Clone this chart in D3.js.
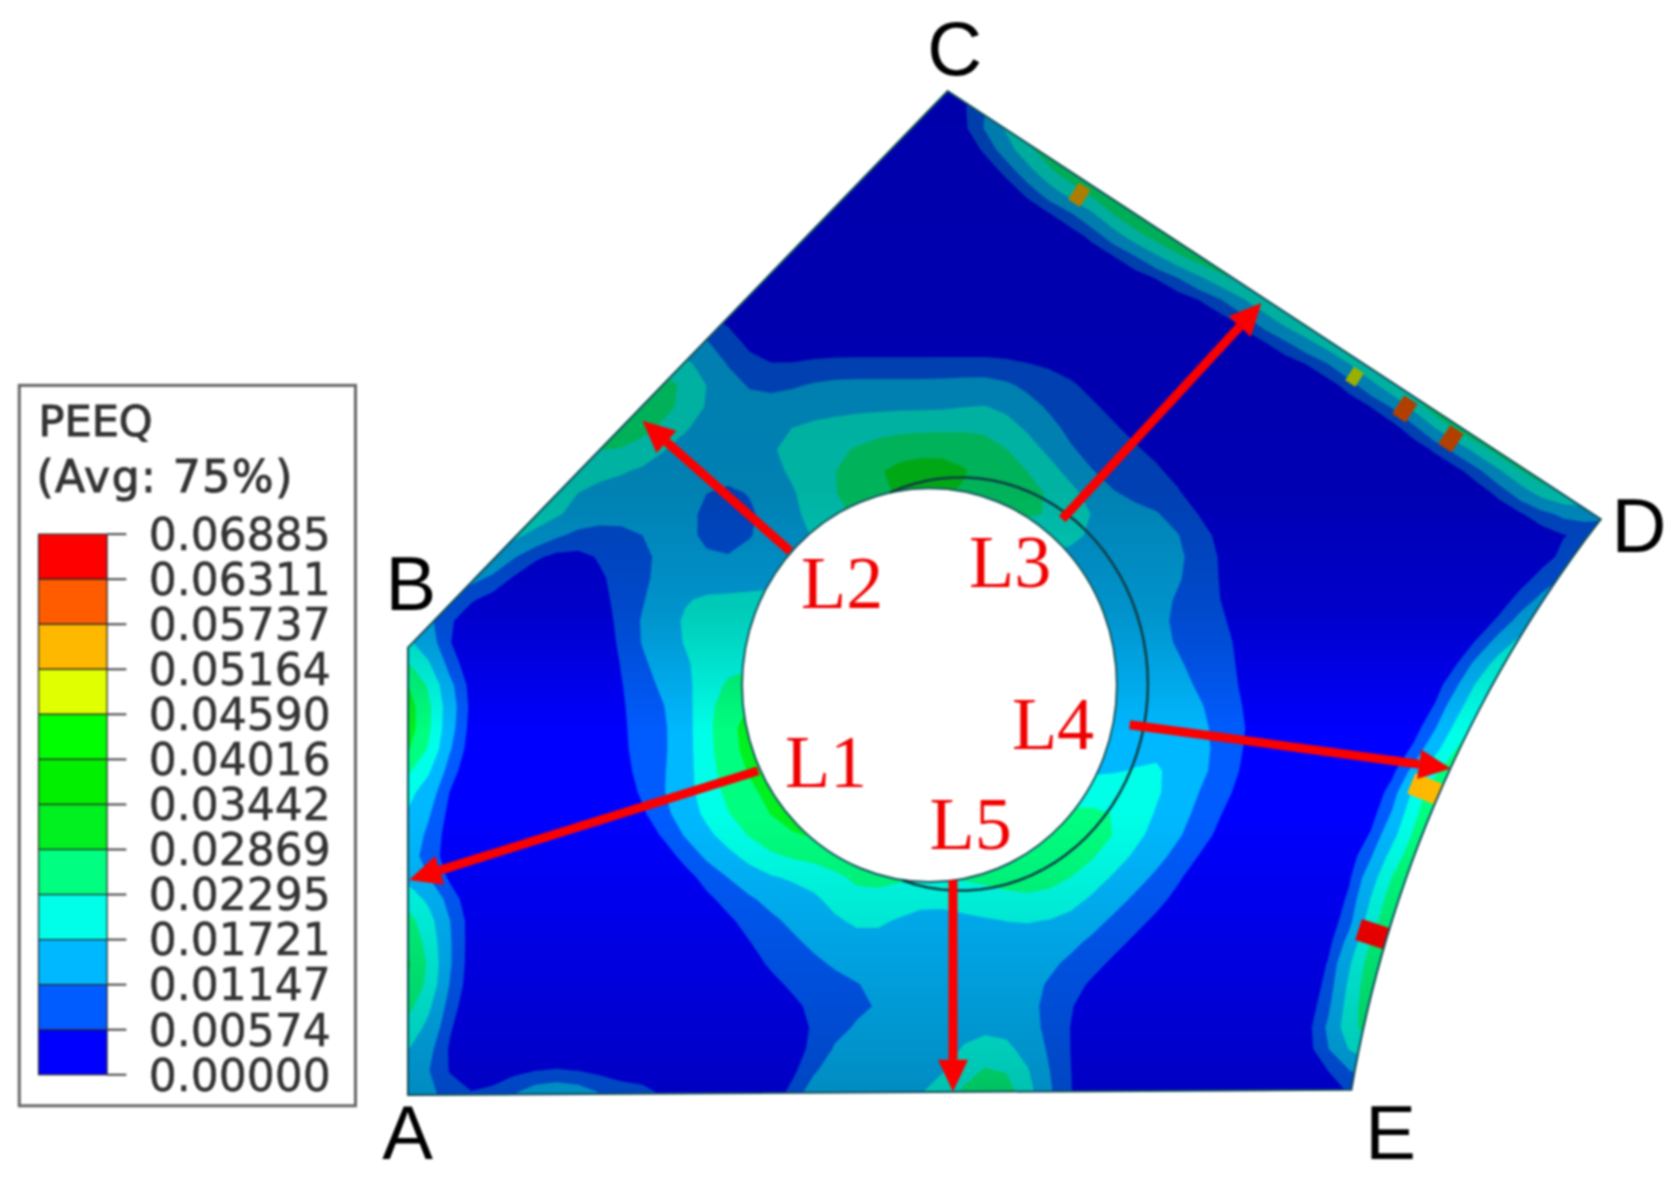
<!DOCTYPE html>
<html>
<head>
<meta charset="utf-8">
<style>
  html, body { margin: 0; padding: 0; background: #fff; }
  svg { display: block; filter: blur(0.8px); }
</style>
<script src="https://cdn.jsdelivr.net/npm/d3@7"></script>
</head>
<body>
<div id="chart"></div>
<script>
// Legend values, top to bottom
var legendLabels = ['0.06885', '0.06311', '0.05737', '0.05164', '0.04590', '0.04016', '0.03442',
  '0.02869', '0.02295', '0.01721', '0.01147', '0.00574', '0.00000'];
// Contour colours, lowest band first
var bandColors = ['#0000ff', '#005cff', '#00b8ff', '#00ffe8', '#00ff80', '#00f020', '#00f000',
  '#00ff00', '#e0ff00', '#ffb800', '#ff5c00', '#ff0000'];

// Plate corners A B C D E, read in picture units
var plateX = [381, 381, 885, 1495, 1263];
var plateY = [1023, 605, 85, 485, 1018];
var cornerNames = ['A', 'B', 'C', 'D', 'E'];
var cornerLabelX = [357, 360, 866, 1505, 1275];
var cornerLabelY = [1083, 570, 70, 516, 1083];

// Paths L1..L5, start at the hole and end at the plate edge
var pathNames = ['L1', 'L2', 'L3', 'L4', 'L5'];
var pathLabelX = [733, 748, 905, 945, 868];
var pathLabelY = [735, 568, 548, 700, 793];
var pathFromX = [708, 738, 992, 1055, 890];
var pathFromY = [720, 515, 485, 677, 822];
var pathToX = [382, 600, 1178, 1355, 890];
var pathToY = [822, 393, 283, 718, 1020];

// Small hot elements on the loaded edges
var hotX = [1008, 1265, 1312, 1355, 1331, 1283];
var hotY = [182, 352, 382, 410, 737, 873];
var hotLevel = [9, 8, 10, 10, 9, 11];
var hotAngle = [33, 33, 33, 33, -68, -72];
var hotLength = [14, 12, 16, 16, 22, 22];
var hotDepth = [20, 16, 22, 22, 30, 32];

// PEEQ band index read on a 20 unit grid: rows start at y = 80, columns at x = 380.
// A short row repeats its last digit up to the right side.
var fieldRows = [
  '0',
  '0000000000 0000000000 0000001333',
  '0000000000 0000000000 0000000245',
  '0000000000 0000000000 0000000024 5',
  '0000000000 0000000000 0000000002 45',
  '0000000000 0000000000 0000000000 2446',
  '0000000000 0000000000 0000000000 00245',
  '0000000000 0000000000 0000000000 0002456',
  '0000000000 0000000000 0000000000 00000245',
  '0000000000 0000000000 0000000000 0000000245',
  '0000000000 0000000000 0000000000 0000000002 4',
  '1111111111 1111111000 0000000000 0000000000 245',
  '2222222222 2222210000 0000000000 0000000000 00245',
  '3333333333 3333211111 1111111111 1100000000 000025',
  '5555555555 5554321112 2222222221 1110000000 00000246',
  '5555555555 5553222222 2222222322 1111000000 000000026',
  '5555555555 5432222233 3333333432 2111100000 0000000025 6',
  '3333333333 4322222333 3445555443 2111110000 0000000000 35',
  '3333333333 2222222233 4455555444 3211111000 0000000000 0245',
  '3333333322 2222111223 3455555444 4321111000 0000000000 00245',
  '5555555422 2222111223 4444444444 4432221100 0000000000 0000110',
  '3333332111 1122111223 3333333333 3322222110 0000000000 0000000',
  '3333310001 1122112222 2222222222 2222222110 0000000000 000012',
  '2222200001 1122222222 2222222222 2222222110 0000000000 00012',
  '2220000001 1123333333 3333333322 2222221110 0000000000 0012',
  '2200000000 1223333333 3333333322 2222221111 0000000000 0023',
  '3200000000 1223333333 3333333322 2222221111 0000000000 023',
  '4300000000 1122333333 3333333322 2222222111 0000000000 235',
  '6420000000 1122344444 4444333222 2222222111 0000000001 35',
  '6420000000 1112355555 5555433222 2222222211 0000000002 4',
  '6410000000 1112355555 5555433222 2222222211 1000000013 5',
  '6510000000 1112355555 5555433222 2222232211 0000000024',
  '4300000000 1112345555 5555433222 2222233211 0000000135',
  '3200000000 0122344555 5555443333 3333432111 0000000466',
  '3200000000 0112344555 5555544444 4444322110 000000135',
  '3100000000 0012234455 5555554444 4454322110 000000245',
  '2100000000 0001223444 4444444444 4443221100 00000135',
  '2100000000 0000112222 3444444444 4432211000 00000245',
  '4310000000 0000111222 3433223344 4322111000 0000035',
  '5320000000 0000011122 2332222222 2221110000 0000035',
  '5310000000 0000001112 2222222222 2211100000 0000146',
  '6410000000 0000001111 2222222222 2111000000 000035',
  '6410000000 0000000111 1122222222 1110000000 000035',
  '4300000000 0000000011 1112222222 1100000000 000035',
  '4300000000 0000000001 1221122222 1100000000 000245',
  '3200000000 0000000001 2222123332 1100000000 00024',
  '2100000000 0000000001 2222123443 1100000000 00001',
  '3211123332 1210000013 3322334553 1100000000 00001',
  '3211123332 1210000013 3322334553 1100000000 00001'
];

// Geometry of the picture
var width = 1679, height = 1185;
var gridX0 = 380, gridY0 = 80, gridStep = 20, gridCols = 57;
var holeX = 868, holeY = 640, holeRx = 175, holeRy = 184;
var washerX = 897, washerY = 639, washerRx = 175, washerRy = 193;
var arcX = 2451, arcY = 1220, arcR = 1206;

var x = d3.scaleLinear().domain([0, 1568]).range([0, width]);
var y = d3.scaleLinear().domain([0, 1107]).range([0, height]);

var svg = d3.select('#chart').append('svg')
  .attr('width', width)
  .attr('height', height);
var defs = svg.append('defs');

// Plate outline, the D-E side is a circular arc
var platePoints = [[plateX[0], plateY[0]], [plateX[1], plateY[1]], [plateX[2], plateY[2]], [plateX[3], plateY[3]]];
d3.range(1, 31).forEach(function(i) {
  var py = plateY[3] + (plateY[4] - plateY[3]) * i / 30;
  platePoints.push([arcX - Math.sqrt(arcR * arcR - (arcY - py) * (arcY - py)), py]);
});
var plateLine = d3.line()
  .x(function(d) { return x(d[0]); })
  .y(function(d) { return y(d[1]); })
  .curve(d3.curveLinearClosed);

defs.append('clipPath').attr('id', 'plate-clip')
  .append('path').attr('d', plateLine(platePoints));

// Lighting of the viewport: darker at the top and a little at the bottom
var shade = defs.append('linearGradient').attr('id', 'shade')
  .attr('gradientUnits', 'userSpaceOnUse')
  .attr('x1', 0).attr('x2', 0).attr('y1', y(85)).attr('y2', y(1023));
[[0, 0.33], [0.4, 0.3], [0.52, 0.2], [0.64, 0], [0.72, 0], [1, 0.24]].forEach(function(s) {
  shade.append('stop').attr('offset', s[0]).attr('stop-color', '#000').attr('stop-opacity', s[1]);
});

var plate = svg.append('g').attr('clip-path', 'url(#plate-clip)');
plate.append('rect')
  .attr('width', width).attr('height', height)
  .attr('fill', bandColors[0]);

// Contour bands from the grid, softened so the iso lines are not stepped
var gridRows = fieldRows.length;
var values = [];
fieldRows.forEach(function(row) {
  var s = row.replace(/ /g, '');
  s = s.padEnd(gridCols, s[s.length - 1]);
  s.split('').forEach(function(c) { values.push(+c); });
});
d3.blur2({ data: values, width: gridCols, height: gridRows }, 0.25);
var contours = d3.contours()
  .size([gridCols, gridRows])
  .thresholds([0.8, 1.5, 2.5, 3.5, 4.5, 5.5, 6.5, 7.5])(values);

var gridPath = d3.geoPath(d3.geoTransform({
  point: function(cx, cy) {
    this.stream.point(x(gridX0 + (cx - 0.5) * gridStep), y(gridY0 + (cy - 0.5) * gridStep));
  }
}));

plate.selectAll('path.band')
  .data(contours)
  .enter()
  .append('path')
  .attr('class', 'band')
  .attr('d', gridPath)
  .attr('fill', function(d) { return bandColors[Math.ceil(d.value)]; });

// Hot elements
plate.selectAll('rect.hot')
  .data(hotX)
  .enter()
  .append('rect')
  .attr('class', 'hot')
  .attr('x', function(d, i) { return -hotLength[i] / 2; })
  .attr('y', function(d, i) { return -hotDepth[i] / 2; })
  .attr('width', function(d, i) { return hotLength[i]; })
  .attr('height', function(d, i) { return hotDepth[i]; })
  .attr('transform', function(d, i) {
    return 'translate(' + x(d) + ',' + y(hotY[i]) + ') rotate(' + hotAngle[i] + ')';
  })
  .attr('fill', function(d, i) { return bandColors[hotLevel[i]]; });

plate.append('rect')
  .attr('width', width).attr('height', height)
  .attr('fill', 'url(#shade)');

// Plate edge
svg.append('path')
  .attr('d', plateLine(platePoints))
  .attr('fill', 'none')
  .attr('stroke', '#14505a')
  .attr('stroke-width', 2);

// Hole and the offset washer edge
svg.append('ellipse')
  .attr('cx', x(holeX)).attr('cy', y(holeY))
  .attr('rx', x(holeRx)).attr('ry', y(holeRy))
  .attr('fill', '#fff')
  .attr('stroke', '#1c5a60')
  .attr('stroke-width', 2);

var washerLine = d3.line()
  .x(function(a) { return x(washerX + washerRx * Math.cos(a * Math.PI / 180)); })
  .y(function(a) { return y(washerY + washerRy * Math.sin(a * Math.PI / 180)); });
svg.append('path')
  .attr('d', washerLine(d3.range(-112, 109, 4)))
  .attr('fill', 'none')
  .attr('stroke', '#103c44')
  .attr('stroke-width', 2.5);

// Red path arrows
var headLength = 32, headHalf = 15;
pathNames.forEach(function(name, i) {
  var x0 = x(pathFromX[i]), y0 = y(pathFromY[i]), x1 = x(pathToX[i]), y1 = y(pathToY[i]);
  var len = Math.hypot(x1 - x0, y1 - y0);
  var ux = (x1 - x0) / len, uy = (y1 - y0) / len;
  var bx = x1 - ux * headLength, by = y1 - uy * headLength;
  svg.append('line')
    .attr('x1', x0).attr('y1', y0).attr('x2', bx).attr('y2', by)
    .attr('stroke', '#fb0000')
    .attr('stroke-width', 9);
  svg.append('path')
    .attr('d', 'M' + x1 + ',' + y1 + 'L' + (bx - uy * headHalf) + ',' + (by + ux * headHalf) +
      'L' + (bx + uy * headHalf) + ',' + (by - ux * headHalf) + 'Z')
    .attr('fill', '#fb0000');
});

svg.selectAll('text.path-label')
  .data(pathNames)
  .enter()
  .append('text')
  .attr('class', 'path-label')
  .attr('x', function(d, i) { return x(pathLabelX[i]); })
  .attr('y', function(d, i) { return y(pathLabelY[i]); })
  .style('font-family', '"Liberation Serif"')
  .style('font-size', '74px')
  .attr('fill', '#f00000')
  .text(function(d) { return d; });

svg.selectAll('text.corner')
  .data(cornerNames)
  .enter()
  .append('text')
  .attr('class', 'corner')
  .attr('x', function(d, i) { return x(cornerLabelX[i]); })
  .attr('y', function(d, i) { return y(cornerLabelY[i]); })
  .style('font-family', '"Liberation Sans"')
  .style('font-size', '76px')
  .attr('fill', '#000')
  .text(function(d) { return d; });

// Legend
var legend = svg.append('g');
legend.append('rect')
  .attr('x', x(18)).attr('y', y(360))
  .attr('width', x(314)).attr('height', y(673))
  .attr('fill', '#fff')
  .attr('stroke', '#666')
  .attr('stroke-width', 3);

var legendFont = '"DejaVu Sans"';
legend.append('text')
  .attr('x', x(36)).attr('y', y(407))
  .style('font-family', legendFont)
  .style('font-size', '43px')
  .attr('fill', '#333')
  .attr('stroke', '#333')
  .attr('stroke-width', 1)
  .text('PEEQ');
legend.append('text')
  .attr('x', x(34)).attr('y', y(460))
  .style('font-family', legendFont)
  .style('font-size', '44px')
  .style('letter-spacing', '1.5px')
  .attr('fill', '#333')
  .attr('stroke', '#333')
  .attr('stroke-width', 1)
  .text('(Avg: 75%)');

var legendY = d3.scalePoint().domain(legendLabels).range([y(499), y(1004)]);
var bandsDown = bandColors.slice().reverse();
legend.selectAll('rect.key')
  .data(bandsDown)
  .enter()
  .append('rect')
  .attr('class', 'key')
  .attr('x', x(36))
  .attr('y', function(d, i) { return legendY(legendLabels[i]); })
  .attr('width', x(64))
  .attr('height', legendY.step())
  .attr('fill', function(d) { return d; })
  .attr('stroke', '#2a2a2a')
  .attr('stroke-width', 1.2);

legend.selectAll('line.tick')
  .data(legendLabels)
  .enter()
  .append('line')
  .attr('class', 'tick')
  .attr('x1', x(100)).attr('x2', x(118))
  .attr('y1', function(d) { return legendY(d); })
  .attr('y2', function(d) { return legendY(d); })
  .attr('stroke', '#444')
  .attr('stroke-width', 2);

legend.selectAll('text.tick-label')
  .data(legendLabels)
  .enter()
  .append('text')
  .attr('class', 'tick-label')
  .attr('x', x(139))
  .attr('y', function(d) { return legendY(d); })
  .attr('dy', '0.36em')
  .style('font-family', legendFont)
  .style('font-size', '44px')
  .attr('fill', '#333')
  .attr('stroke', '#333')
  .attr('stroke-width', 0.5)
  .text(function(d) { return d; });
</script>
</body>
</html>
